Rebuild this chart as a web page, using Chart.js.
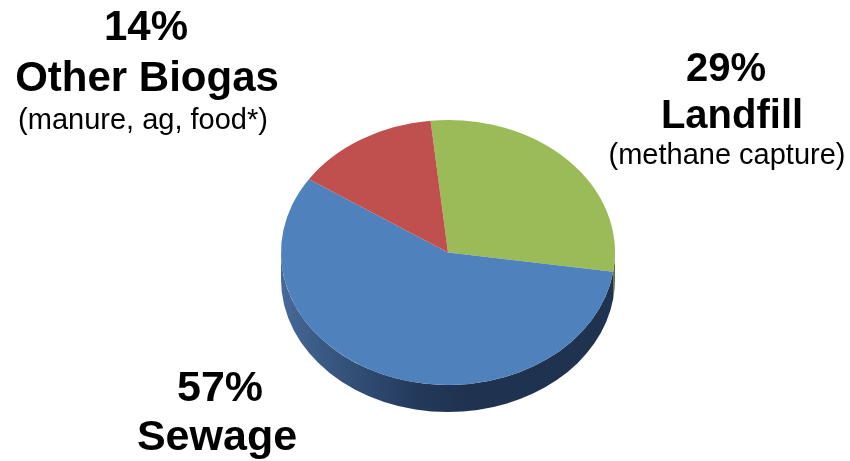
<!DOCTYPE html>
<html>
<head>
<meta charset="utf-8">
<script src="https://cdn.jsdelivr.net/npm/chart.js@4/dist/chart.umd.min.js"></script>
<style>
  html, body { margin: 0; padding: 0; background: #fff; }
  canvas { display: block; }
</style>
</head>
<body>
<canvas id="pie" width="850" height="461"></canvas>
<script>
// slice order runs clockwise from the top
var sources = ["Landfill", "Sewage", "Other Biogas"];
var shares = [29, 57, 14];
var notes = ["(methane capture)", "", "(manure, ag, food*)"];
var topColors = ["#9BBB59", "#4F81BD", "#C0504D"];
var sideColors = ["#5b7330", null, "#7a2e2c"];

var TILT = 132.5 / 167;   // vertical squash of the disc
var DEPTH = 27;           // thickness of the rim in px

function normAngle(a) {
    var t = Math.PI * 2;
    return ((a % t) + t) % t;
}

// the rim: only the front half (0..PI in canvas angles) is visible
function drawSides(chart) {
    var ctx = chart.ctx;
    var arcs = chart.getDatasetMeta(0).data;
    arcs.forEach(function (el, i) {
        var p = el.getProps(["x", "y", "startAngle", "endAngle", "outerRadius"], true);
        var a0 = normAngle(p.startAngle);
        var a1 = a0 + (p.endAngle - p.startAngle);
        var ranges = [[a0, a1], [a0 - Math.PI * 2, a1 - Math.PI * 2], [a0 + Math.PI * 2, a1 + Math.PI * 2]];
        var rx = p.outerRadius, ry = p.outerRadius * TILT;
        ranges.forEach(function (r) {
            var s = Math.max(r[0], 0), e = Math.min(r[1], Math.PI);
            if (e <= s) return;
            var fill;
            if (sideColors[i]) {
                fill = sideColors[i];
            } else {
                fill = ctx.createLinearGradient(p.x - rx, 0, p.x + rx, 0);
                fill.addColorStop(0, "#47699a");
                fill.addColorStop(0.12, "#3a5a84");
                fill.addColorStop(0.4, "#243a5c");
                fill.addColorStop(0.55, "#1f3350");
                fill.addColorStop(1, "#1f3350");
            }
            ctx.beginPath();
            ctx.ellipse(p.x, p.y, rx, ry, 0, s, e);
            ctx.ellipse(p.x, p.y + DEPTH, rx, ry, 0, e, s, true);
            ctx.closePath();
            ctx.fillStyle = fill;
            ctx.fill();
        });
    });
}

var disc3d = {
    id: "disc3d",
    beforeDatasetsDraw: function (chart) {
        var ctx = chart.ctx;
        var el = chart.getDatasetMeta(0).data[0];
        ctx.save();
        drawSides(chart);
        ctx.translate(0, el.y);
        ctx.scale(1, TILT);
        ctx.translate(0, -el.y);
    },
    afterDatasetsDraw: function (chart) {
        chart.ctx.restore();
    }
};

function label(ctx, text, x, y, size, weight) {
    ctx.font = (weight || "") + " " + size + "px 'Liberation Sans', Arial, sans-serif";
    ctx.fillText(text, x, y);
}

var labelsPlugin = {
    id: "sliceLabels",
    afterDraw: function (chart) {
        var ctx = chart.ctx;
        ctx.save();
        ctx.fillStyle = "#000";
        ctx.textAlign = "center";
        ctx.textBaseline = "alphabetic";
        // Other Biogas, top left
        label(ctx, shares[2] + "%", 146, 40, 42, "bold");
        label(ctx, sources[2], 147, 91, 42, "bold");
        label(ctx, notes[2], 143, 129, 29);
        // Landfill, right
        label(ctx, shares[0] + "%", 726, 81, 40, "bold");
        label(ctx, sources[0], 732, 128, 40, "bold");
        label(ctx, notes[0], 727, 164, 29);
        // Sewage, bottom left
        label(ctx, shares[1] + "%", 220, 401, 43, "bold");
        label(ctx, sources[1], 217, 450, 43, "bold");
        ctx.restore();
    }
};

new Chart(document.getElementById("pie"), {
    type: "pie",
    data: {
        labels: sources,
        datasets: [{
            data: shares,
            backgroundColor: topColors,
            borderWidth: 0,
            clip: false
        }]
    },
    options: {
        responsive: false,
        animation: false,
        rotation: -6,
        layout: { padding: { left: 281, right: 235, top: 85.5, bottom: 41.5 } },
        plugins: {
            legend: { display: false },
            tooltip: { enabled: false }
        }
    },
    plugins: [disc3d, labelsPlugin]
});
</script>
</body>
</html>
